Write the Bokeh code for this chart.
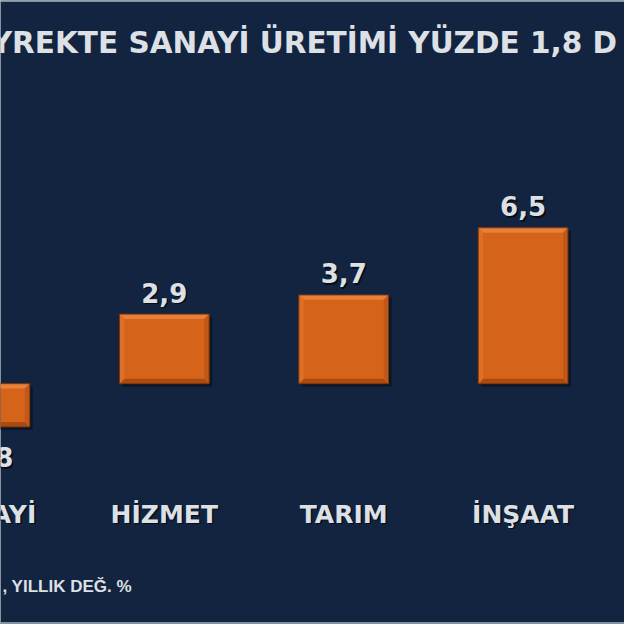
import numpy as np
from bokeh.plotting import figure
from bokeh.models import Range1d, Label, Span, ColumnDataSource
from bokeh.core.properties import value
from bokeh.embed import file_html
from bokeh.resources import INLINE

# data
categories = ["SANAYİ", "HİZMET", "TARIM", "İNŞAAT"]
values = [-1.8, 2.9, 3.7, 6.5]
value_labels = ["-1,8", "2,9", "3,7", "6,5"]
title_text = "YREKTE SANAYİ ÜRETİMİ YÜZDE 1,8 D"
footer_text = ", YILLIK DEĞ. %"

BG = "#12243f"
TXT = "#dde0e5"
SHADOW = "#060d18"
FONT = "DejaVu Sans"

W = H = 624
SC = W / 640.0          # reference px -> page px
PX_X = 184.0            # reference px per category
PX_Y = 24.6             # reference px per unit

x = np.arange(len(categories), dtype=float)
v = np.array(values)

p = figure(width=W, height=H, output_backend="svg", toolbar_location=None,
           x_range=Range1d(1 - 168 / PX_X, 1 - 168 / PX_X + 640 / PX_X),
           y_range=Range1d(-(640 - 393) / PX_Y, 393 / PX_Y),
           min_border=0, x_axis_location=None, y_axis_location=None)
p.background_fill_color = BG
p.border_fill_color = BG
p.outline_line_color = None
p.grid.grid_line_color = None

# bars with a bevel look
half = 0.25
left, right = x - half, x + half
bottom, top = np.minimum(0, v), np.maximum(0, v)
bx, by = 5 / PX_X, 5 / PX_Y
sx, sy = 3 / PX_X, 3 / PX_Y

p.quad(left=left + sx, right=right + sx, bottom=bottom - sy, top=top - sy,
       fill_color="#070f1d", fill_alpha=0.7, line_color=None)
p.quad(left=left, right=right, bottom=bottom, top=top,
       fill_color="#d5641a", line_color=None)

bev_xs, bev_ys, bev_col = [], [], []
for l, r, b, t in zip(left, right, bottom, top):
    bev_xs += [[l, r, r - bx, l + bx], [l, r, r - bx, l + bx],
               [l, l, l + bx, l + bx], [r, r, r - bx, r - bx]]
    bev_ys += [[t, t, t - by, t - by], [b, b, b + by, b + by],
               [b, t, t - by, b + by], [b, t, t - by, b + by]]
    bev_col += ["#e6803a", "#a94b10", "#dc7026", "#bf5818"]
p.patches(xs=bev_xs, ys=bev_ys, fill_color=bev_col, line_color=None)
p.quad(left=left, right=right, bottom=bottom, top=top,
       fill_color=None, line_color="#7a340a", line_width=1)


def shadowed_text(src, size):
    common = dict(x="x", y="y", text="t", source=src, text_align="center",
                  text_baseline="middle", text_font=value(FONT),
                  text_font_style="bold", text_font_size=size)
    p.text(text_color=SHADOW, x_offset=1.5, y_offset=1.5, **common)
    p.text(text_color=TXT, **common)


# value labels (y = middle of the digits)
lab_y = np.where(v >= 0, v + 22 / PX_Y, v - 31 / PX_Y)
shadowed_text(ColumnDataSource(data=dict(x=x, y=lab_y, t=value_labels)), "26px")

# category labels
cat_y = np.full(len(x), -(527 - 393) / PX_Y)
shadowed_text(ColumnDataSource(data=dict(x=x, y=cat_y, t=categories)), "25px")

# title and footer (screen units)
p.add_layout(Label(x=-10 * SC, y=H - 44 * SC, x_units="screen", y_units="screen",
                   text=title_text, text_font=FONT, text_font_style="bold",
                   text_font_size="29.5px", text_color=TXT, text_baseline="middle"))
p.add_layout(Label(x=2 * SC, y=H - 601 * SC, x_units="screen", y_units="screen",
                   text=footer_text, text_font="Liberation Sans", text_font_style="bold",
                   text_font_size="17px", text_color=TXT, text_baseline="middle"))

# thin light frame lines at top and bottom
p.add_layout(Span(location=393 / PX_Y - 0.6 / PX_Y, dimension="width",
                  line_color="#aab5c6", line_width=1.5))
p.add_layout(Span(location=-(640 - 393) / PX_Y + 1.5 / PX_Y, dimension="width",
                  line_color="#aab5c6", line_width=1.5))

open("out.html", "w").write(file_html(p, INLINE))
